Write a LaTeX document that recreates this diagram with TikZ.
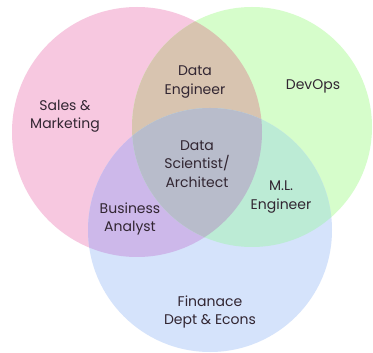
\documentclass[tikz,border=0pt]{standalone}
\usepackage{fontspec}
\setmainfont{Poppins}
\definecolor{pinkc}{RGB}{247,200,224}
\definecolor{greenc}{RGB}{214,253,203}
\definecolor{bluec}{RGB}{213,227,251}
\definecolor{tanc}{RGB}{216,196,176}
\definecolor{purplec}{RGB}{205,184,234}
\definecolor{tealc}{RGB}{188,235,213}
\definecolor{centerc}{RGB}{184,188,203}
\definecolor{textc}{RGB}{50,38,50}
\tikzset{
  lbl/.style={text=textc, align=center, font=\fontsize{14}{18.5}\selectfont, inner sep=0pt}
}
\begin{document}
\begin{tikzpicture}[x=1pt,y=-1pt]
\useasboundingbox (0,0) rectangle (373,353);
\fill[white] (0,0) rectangle (373,353);
\def\pinkpath{(137,132) circle[radius=125]}
\def\greenpath{(252,127) circle[radius=120]}
\def\bluepath{(210,230) circle[radius=122]}
\fill[pinkc] \pinkpath;
\fill[greenc] \greenpath;
\fill[bluec] \bluepath;
\begin{scope}
  \clip \pinkpath;
  \fill[tanc] \greenpath;
\end{scope}
\begin{scope}
  \clip \pinkpath;
  \fill[purplec] \bluepath;
\end{scope}
\begin{scope}
  \clip \greenpath;
  \fill[tealc] \bluepath;
\end{scope}
\begin{scope}
  \clip \pinkpath;
  \clip \greenpath;
  \fill[centerc] \bluepath;
\end{scope}
\node[lbl] (de) at (195,82) {Data\\Engineer};
\node[lbl] (devops) at (313,86) {DevOps};
\node[lbl] (sales) at (65,116) {Sales \&\\Marketing};
\node[lbl] (ds) at (197,164) {Data\\Scientist/\\Architect};
\node[lbl] (ml) at (281,197) {M.L.\\Engineer};
\node[lbl] (ba) at (130,219) {Business\\Analyst};
\node[lbl] (fin) at (210,312) {Finanace\\Dept \& Econs};
\end{tikzpicture}
\end{document}
